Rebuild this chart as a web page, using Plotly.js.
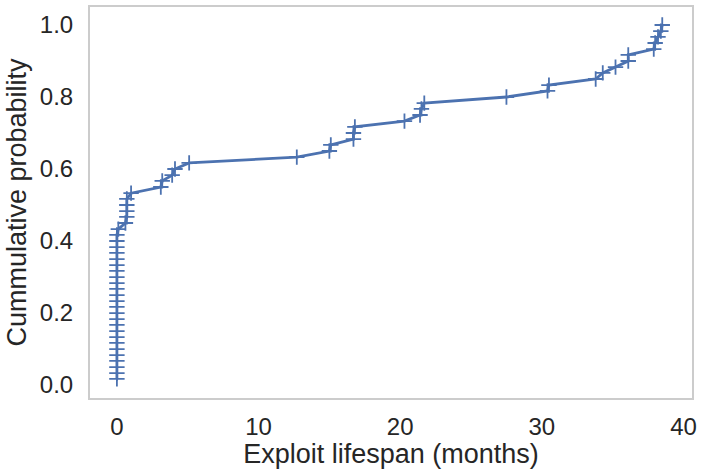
<!DOCTYPE html>
<html>
<head>
<meta charset="utf-8">
<script src="https://cdn.plot.ly/plotly-3.0.1.min.js"></script>
<style>html,body{margin:0;padding:0;background:#fff;}#chart{width:706px;height:469px;}</style>
</head>
<body>
<div id="chart"></div>
<script>
// Exploit lifespan (months) and cumulative probability
const lifespan = [
  0, 0, 0, 0, 0, 0, 0, 0, 0, 0,
  0, 0, 0, 0, 0, 0, 0, 0, 0, 0,
  0, 0, 0, 0, 0, 0.1,
  0.6, 0.7, 0.7, 0.7, 0.7,
  1.0, 3.1, 3.2, 3.9, 4.1, 5.1,
  12.7, 15.0, 15.1, 16.7, 16.7, 16.8,
  20.3, 21.4, 21.5, 21.7, 27.5,
  30.4, 30.5, 33.8, 34.3, 35.2, 36.1, 36.1,
  37.9, 38.0, 38.2, 38.4, 38.5
];
const cumProb = [
  0.017, 0.033, 0.050, 0.067, 0.083, 0.100, 0.117, 0.133, 0.150, 0.167,
  0.183, 0.200, 0.217, 0.233, 0.250, 0.267, 0.283, 0.300, 0.317, 0.333,
  0.350, 0.367, 0.383, 0.400, 0.417, 0.433,
  0.450, 0.467, 0.483, 0.500, 0.517,
  0.533, 0.550, 0.567, 0.583, 0.600, 0.617,
  0.633, 0.650, 0.667, 0.683, 0.700, 0.717,
  0.733, 0.750, 0.767, 0.783, 0.800,
  0.817, 0.833, 0.850, 0.867, 0.883, 0.900, 0.917,
  0.933, 0.950, 0.967, 0.983, 1.000
];
const xTicks = [0, 10, 20, 30, 40];
const yTicks = [0.0, 0.2, 0.4, 0.6, 0.8, 1.0];
const yTickText = ["0.0", "0.2", "0.4", "0.6", "0.8", "1.0"];

const color = '#4C72B0';
const trace = {
  x: lifespan, y: cumProb, type: 'scatter', mode: 'lines+markers',
  line: {color: color, width: 2.8},
  marker: {symbol: 'cross-thin-open', size: 11, color: color, line: {color: color, width: 1.8}},
  hoverinfo: 'skip'
};
const fam = 'Liberation Sans, Arial, sans-serif';
const txt = '#262626';
const layout = {
  width: 706, height: 469,
  margin: {l: 90, r: 14, t: 7, b: 71},
  paper_bgcolor: '#ffffff', plot_bgcolor: '#ffffff',
  showlegend: false,
  font: {family: fam, size: 24, color: txt},
  xaxis: {
    range: [-1.9, 40.6], tickvals: xTicks, showgrid: false, zeroline: false,
    showline: true, mirror: true, linecolor: '#cccccc', linewidth: 2,
    ticks: 'outside', ticklen: 6, tickcolor: 'rgba(0,0,0,0)',
    tickfont: {family: fam, size: 24, color: txt},
    title: {text: 'Exploit lifespan (months)', font: {family: fam, size: 27, color: txt}, standoff: 3}
  },
  yaxis: {
    range: [-0.036, 1.05], tickvals: yTicks, ticktext: yTickText, showgrid: false, zeroline: false,
    showline: true, mirror: true, linecolor: '#cccccc', linewidth: 2,
    ticks: 'outside', ticklen: 10, tickcolor: 'rgba(0,0,0,0)',
    tickfont: {family: fam, size: 24, color: txt},
    title: {text: 'Cummulative probability', font: {family: fam, size: 27, color: txt}, standoff: 5}
  }
};
Plotly.newPlot('chart', [trace], layout, {staticPlot: true, displayModeBar: false});
</script>
</body>
</html>
